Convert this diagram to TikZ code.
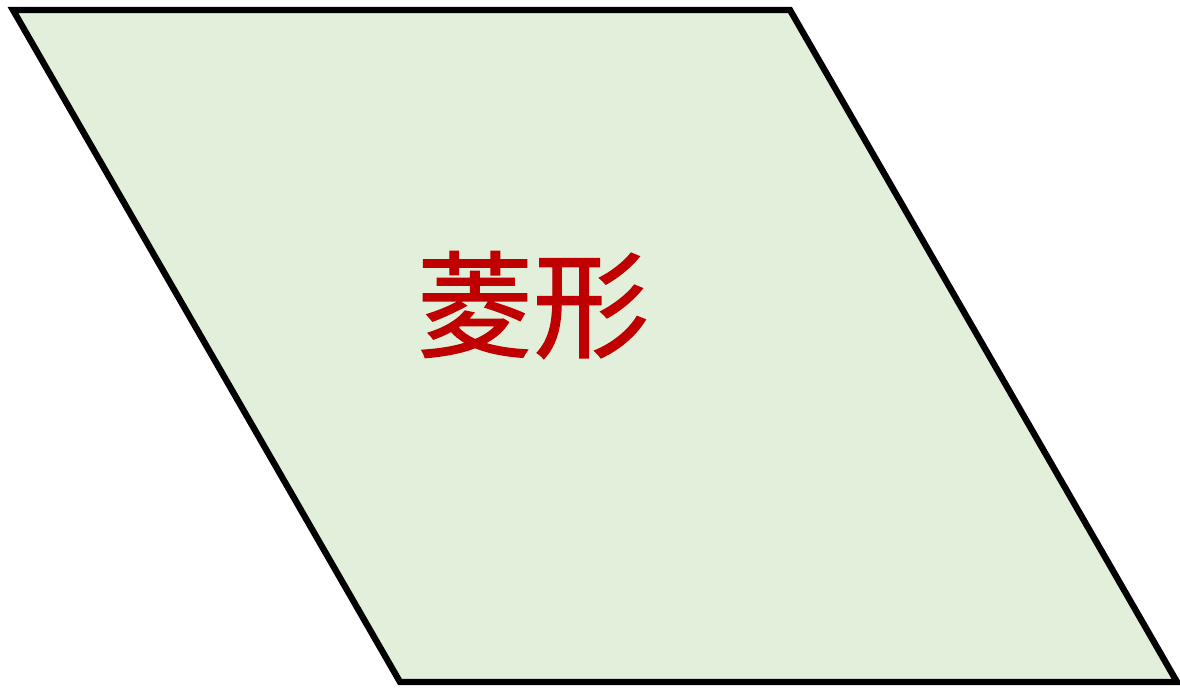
\documentclass[tikz,border=0pt]{standalone}
\usepackage{fontspec}
\newfontfamily\cjk[FakeBold=1.2]{Noto Sans CJK SC}
\usepackage{tikz}
\usetikzlibrary{calc}
\definecolor{LightGreen}{RGB}{226,239,218}
\definecolor{DarkRed}{RGB}{192,0,0}

\begin{document}
\begin{tikzpicture}[x=0.02cm,y=-0.02cm]
      \useasboundingbox (0,0) rectangle (1180,688);
      \coordinate (tl) at (13,10);
      \coordinate (tr) at (790,10);
      \coordinate (br) at (1177,682);
      \coordinate (bl) at (400,682);
      \draw[line width=3.6pt,fill=LightGreen,line join=miter] (tl)--(tr)--(br)--(bl)--cycle;
      \node[text=DarkRed,font=\cjk\fontsize{66}{66}\selectfont,inner sep=0pt] (label) at (533,305) {菱形};
    \end{tikzpicture}
\end{document}
